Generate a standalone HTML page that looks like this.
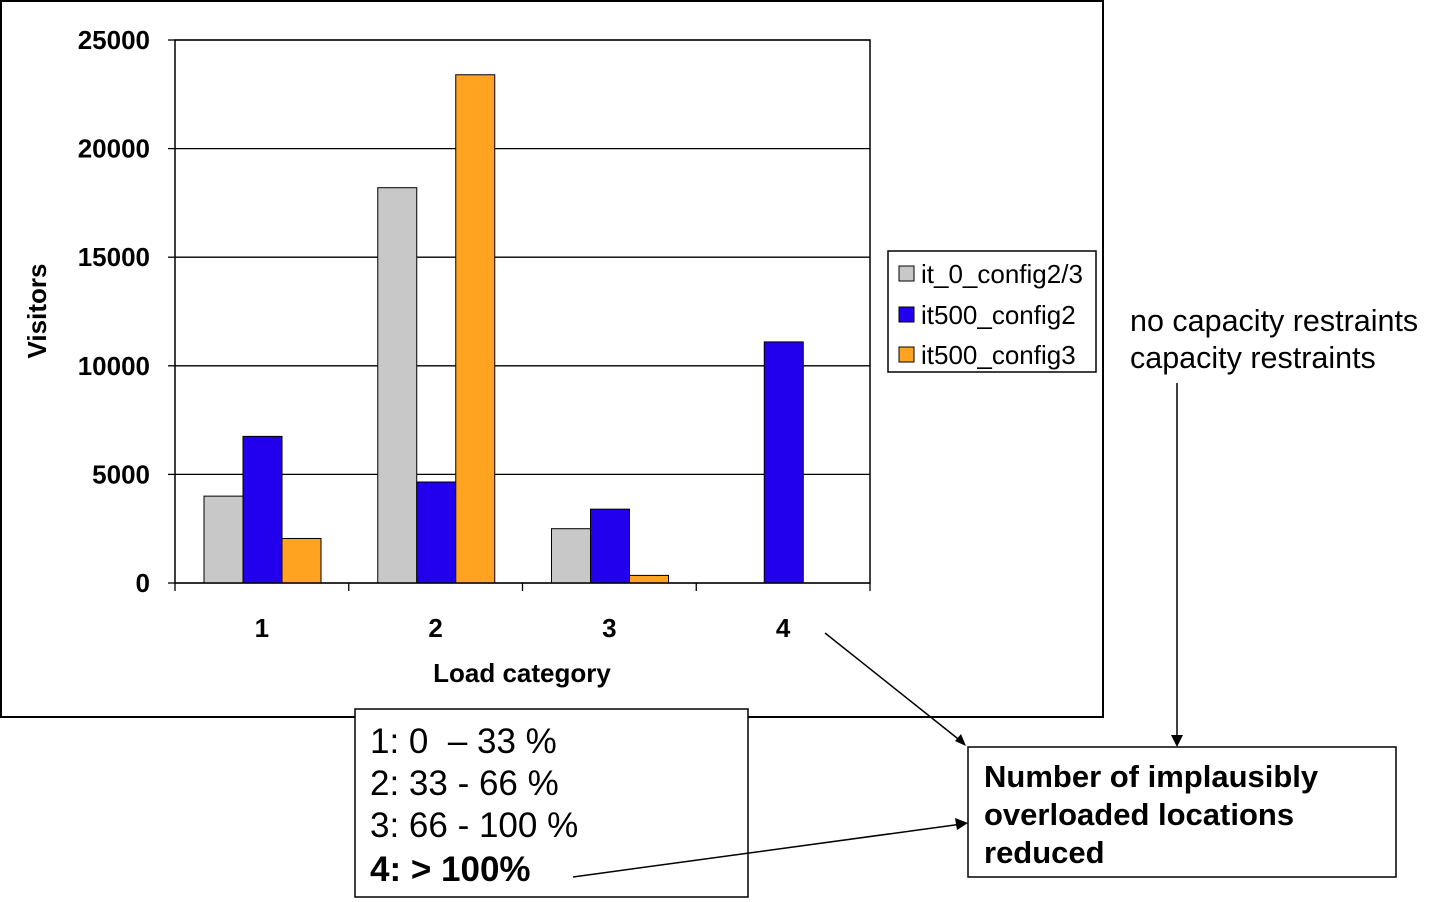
<!DOCTYPE html>
<html><head><meta charset="utf-8"><style>
body{margin:0;background:#fff;width:1429px;height:902px;overflow:hidden;font-family:"Liberation Sans",sans-serif}
svg{position:absolute;left:0;top:0}
</style></head><body>
<svg width="1429" height="902">
<rect x="1" y="1" width="1102" height="716" fill="#fff" stroke="#000" stroke-width="2"/>
<g id="grid"></g>
<g id="bars"></g>
<g id="axes"></g>
<text x="46" y="311" transform="rotate(-90 46 311)" text-anchor="middle" font-size="26" font-weight="bold">Visitors</text>
<text x="522" y="682" text-anchor="middle" font-size="26" font-weight="bold">Load category</text>
<g>
<rect x="888" y="251" width="208" height="121" fill="#fff" stroke="#000" stroke-width="1.5"/>
<rect x="899" y="266" width="15" height="15" fill="#c8c8c8" stroke="#000"/>
<text x="921" y="283" font-size="26">it_0_config2/3</text>
<rect x="899" y="307" width="15" height="15" fill="#2200ee" stroke="#000"/>
<text x="921" y="324" font-size="26">it500_config2</text>
<rect x="899" y="347" width="15" height="15" fill="#ffa321" stroke="#000"/>
<text x="921" y="364" font-size="26">it500_config3</text>
</g>
<text x="1130" y="331" font-size="30.5">no capacity restraints</text>
<text x="1130" y="368" font-size="30.5">capacity restraints</text>
<line x1="1177" y1="383" x2="1177" y2="740" stroke="#000" stroke-width="1.5"/>
<polygon points="1171,735 1183,735 1177,747" fill="#000"/>
<line x1="825" y1="633" x2="962" y2="742" stroke="#000" stroke-width="1.5"/>
<polygon points="955,741 966,746 961,734" fill="#000"/>
<g>
<rect x="355" y="709" width="393" height="188" fill="#fff" stroke="#000" stroke-width="1.5"/>
<text x="370" y="753" font-size="35">1: 0 &#160;– 33 %</text>
<text x="370" y="795" font-size="35">2: 33 - 66 %</text>
<text x="370" y="837" font-size="35">3: 66 - 100 %</text>
<text x="370" y="881" font-size="35" font-weight="bold">4: &gt; 100%</text>
</g>
<line x1="573" y1="877" x2="962" y2="824" stroke="#000" stroke-width="1.5"/>
<polygon points="955,818 968,823 957,830" fill="#000"/>
<g>
<rect x="968" y="747" width="428" height="130" fill="#fff" stroke="#000" stroke-width="1.5"/>
<text x="984" y="787" font-size="31" font-weight="bold">Number of implausibly</text>
<text x="984" y="825" font-size="31" font-weight="bold">overloaded locations</text>
<text x="984" y="863" font-size="31" font-weight="bold">reduced</text>
</g>
</svg>
<script>
const categories=["1","2","3","4"];
const it0=[4000,18200,2500,0];
const cfg2=[6750,4650,3400,11100];
const cfg3=[2050,23400,350,0];
const yTicks=[0,5000,10000,15000,20000,25000];
const NS="http://www.w3.org/2000/svg";
const X0=175,X1=870,Y0=583,Y1=40,YMAX=25000;
const cw=(X1-X0)/categories.length;
function y(v){return Y0-(v/YMAX)*(Y0-Y1);}
function mk(t,a,p){const e=document.createElementNS(NS,t);for(const k in a)e.setAttribute(k,a[k]);p.appendChild(e);return e;}
const grid=document.getElementById('grid'),bars=document.getElementById('bars'),axes=document.getElementById('axes');
yTicks.forEach(t=>{
 const l=mk('line',{x1:X0,x2:X1,y1:y(t),y2:y(t),stroke:'#000','stroke-width':1.3},grid);
 
 
 mk('line',{x1:X0-7,x2:X0,y1:y(t),y2:y(t),stroke:'#000','stroke-width':1.3},axes);
 const tx=mk('text',{x:150,y:y(t)+9,'text-anchor':'end','font-size':26,'font-weight':'bold'},axes);
 tx.textContent=t;
 
 
});
mk('rect',{x:X0,y:Y1,width:X1-X0,height:Y0-Y1,fill:'none',stroke:'#000','stroke-width':1.5},axes);
const series=[[it0,'#c8c8c8'],[cfg2,'#2200ee'],[cfg3,'#ffa321']];
const bw=39,off=29;
categories.forEach((c,i)=>{
 const cx=X0+i*cw;
 mk('line',{x1:cx,x2:cx,y1:Y0,y2:Y0+8,stroke:'#000','stroke-width':1.3},axes);
 const tx=mk('text',{x:cx+cw/2,y:637,'text-anchor':'middle','font-size':26,'font-weight':'bold'},axes);
 tx.textContent=c;
 
 
 series.forEach((s,j)=>{
  const v=s[0][i]; if(v<=0)return;
  const r=mk('rect',{x:cx+off+j*bw,y:y(v),width:bw,height:Y0-y(v),fill:s[1],stroke:'#000','stroke-width':1},bars);
  
  
 });
});
mk('line',{x1:X1,x2:X1,y1:Y0,y2:Y0+8,stroke:'#000','stroke-width':1.3},axes);
</script>
</body></html>
